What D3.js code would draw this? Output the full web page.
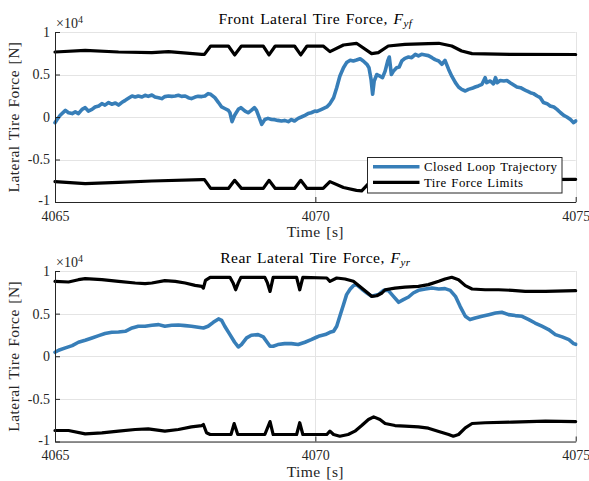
<!DOCTYPE html>
<html>
<head>
<meta charset="utf-8">
<script src="https://cdn.jsdelivr.net/npm/d3@7"></script>
<style>
  html, body { margin: 0; padding: 0; background: #fff; }
  svg { display: block; font-family: "Liberation Serif", "Times New Roman", serif; }
</style>
</head>
<body>
<svg id="chart" width="589" height="481"></svg>
<script>
// ---- Axis ticks -------------------------------------------------------
const timeTicks = [4065, 4070, 4075];
const forceTicks = [-10000, -5000, 0, 5000, 10000];
const forceTickLabels = ["-1", "-0.5", "0", "0.5", "1"];
const seriesNames = ["Closed Loop Trajectory", "Tire Force Limits"];

// ---- Front axle: closed-loop lateral force [N] ------------------------
const frontTrajTime = [4065.00, 4065.04, 4065.10, 4065.20, 4065.26, 4065.33, 4065.39, 4065.45, 4065.52, 4065.58,
  4065.64, 4065.71, 4065.77, 4065.84, 4065.90, 4065.96, 4066.03, 4066.09, 4066.16, 4066.22,
  4066.28, 4066.35, 4066.41, 4066.48, 4066.54, 4066.60, 4066.67, 4066.73, 4066.79, 4066.86,
  4066.92, 4066.99, 4067.05, 4067.11, 4067.18, 4067.24, 4067.31, 4067.37, 4067.43, 4067.50,
  4067.56, 4067.62, 4067.69, 4067.75, 4067.82, 4067.88, 4067.94, 4067.99, 4068.07, 4068.14,
  4068.20, 4068.26, 4068.33, 4068.36, 4068.40, 4068.45, 4068.52, 4068.57, 4068.65, 4068.71,
  4068.77, 4068.83, 4068.87, 4068.91, 4068.97, 4069.03, 4069.09, 4069.16, 4069.22, 4069.28,
  4069.35, 4069.41, 4069.48, 4069.54, 4069.60, 4069.67, 4069.73, 4069.80, 4069.86, 4069.92,
  4069.99, 4070.03, 4070.12, 4070.22, 4070.28, 4070.35, 4070.41, 4070.47, 4070.54, 4070.60,
  4070.67, 4070.73, 4070.79, 4070.86, 4070.92, 4070.99, 4071.03, 4071.07, 4071.10, 4071.13,
  4071.18, 4071.24, 4071.29, 4071.34, 4071.39, 4071.42, 4071.46, 4071.50, 4071.56, 4071.61,
  4071.66, 4071.72, 4071.79, 4071.85, 4071.92, 4071.98, 4072.04, 4072.11, 4072.17, 4072.24,
  4072.30, 4072.37, 4072.43, 4072.49, 4072.56, 4072.62, 4072.69, 4072.75, 4072.81, 4072.88,
  4072.94, 4073.01, 4073.07, 4073.13, 4073.20, 4073.26, 4073.29, 4073.36, 4073.42, 4073.46,
  4073.49, 4073.55, 4073.62, 4073.68, 4073.74, 4073.81, 4073.87, 4073.94, 4074.00, 4074.06,
  4074.13, 4074.19, 4074.26, 4074.32, 4074.38, 4074.45, 4074.51, 4074.58, 4074.64, 4074.71,
  4074.77, 4074.83, 4074.90, 4074.96, 4075.00];
const frontTrajForce = [-670, -300, 200, 780, 500, 400, 600, 400, 900, 1100,
  700, 900, 1180, 1300, 1570, 1400, 1700, 1500, 1650, 1400,
  1700, 1960, 2200, 2470, 2350, 2470, 2350, 2550, 2430, 2590,
  2350, 2270, 2160, 2400, 2470, 2430, 2470, 2550, 2430, 2470,
  2270, 2160, 2350, 2430, 2400, 2470, 2750, 2670, 2270, 1700,
  1180, 1000, 780, 500, -550, 200, 900, 1100, 700, 500,
  780, 1100, 780, 120, -860, -300, -160, -300, -310, -400,
  -470, -400, -550, -300, -470, -160, 0, 200, 400, 500,
  700, 650, 900, 1180, 1570, 2270, 3450, 4800, 5800, 6400,
  6670, 6590, 6700, 6860, 6590, 6200, 5800, 4430, 2670, 4240,
  5000, 4800, 4630, 5400, 6590, 7060, 5000, 5400, 5800, 5880,
  6590, 6900, 7060, 6980, 7370, 7180, 7370, 7290, 7220, 6980,
  6750, 6590, 6200, 6670, 5600, 4800, 4040, 3530, 3250, 3060,
  3250, 3370, 3530, 3650, 3840, 4630, 4040, 4240, 3900, 4630,
  4040, 4300, 4240, 4300, 4040, 3760, 3530, 3450, 3250, 3060,
  2860, 2750, 2470, 2270, 1700, 1570, 1300, 1180, 900, 500,
  200, 0, -300, -670, -470];

// ---- Front axle: tire force limits [N] --------------------------------
const frontUpperTime = [4065.00, 4065.58, 4066.22, 4066.86, 4067.18, 4067.82, 4067.87, 4067.99, 4068.33, 4068.45,
  4068.58, 4069.00, 4069.11, 4069.23, 4069.60, 4069.72, 4069.84, 4070.15, 4070.28, 4070.54,
  4070.79, 4071.08, 4071.21, 4071.40, 4071.72, 4072.17, 4072.37, 4072.62, 4072.81, 4073.01,
  4073.78, 4075.00];
const frontUpperForce = [7650, 7840, 7650, 7570, 7690, 7370, 7370, 8350, 8350, 7300,
  8350, 8350, 7300, 8350, 8350, 7300, 8350, 8350, 7690, 8470,
  8670, 7450, 7570, 8350, 8550, 8630, 8670, 8350, 7760, 7450,
  7370, 7350];
const frontLowerTime = [4065.00, 4065.58, 4066.22, 4066.86, 4067.82, 4067.87, 4067.99, 4068.33, 4068.45, 4068.58,
  4069.00, 4069.11, 4069.23, 4069.60, 4069.72, 4069.84, 4070.15, 4070.28, 4070.54, 4070.79,
  4070.89, 4071.08, 4071.21, 4071.40, 4071.72, 4072.17, 4072.37, 4072.62, 4072.81, 4073.01,
  4073.78, 4075.00];
const frontLowerForce = [-7610, -7840, -7690, -7530, -7370, -7370, -8400, -8400, -7450, -8400,
  -8400, -7450, -8400, -8400, -7450, -8400, -8400, -7600, -8300, -8630,
  -8700, -7450, -7570, -8350, -8550, -8630, -8670, -8350, -7760, -7450,
  -7370, -7330];

// ---- Rear axle: closed-loop lateral force [N] -------------------------
const rearTrajTime = [4065.00, 4065.07, 4065.20, 4065.33, 4065.45, 4065.58, 4065.71, 4065.84, 4065.96, 4066.09,
  4066.22, 4066.35, 4066.48, 4066.60, 4066.73, 4066.86, 4066.99, 4067.11, 4067.24, 4067.37,
  4067.50, 4067.62, 4067.75, 4067.85, 4067.94, 4068.04, 4068.14, 4068.20, 4068.26, 4068.36,
  4068.45, 4068.52, 4068.58, 4068.68, 4068.77, 4068.90, 4069.00, 4069.06, 4069.13, 4069.19,
  4069.28, 4069.41, 4069.54, 4069.67, 4069.80, 4069.92, 4070.02, 4070.06, 4070.19, 4070.28,
  4070.35, 4070.41, 4070.47, 4070.54, 4070.60, 4070.67, 4070.73, 4070.79, 4070.89, 4070.99,
  4071.08, 4071.21, 4071.31, 4071.40, 4071.50, 4071.60, 4071.69, 4071.79, 4071.88, 4071.98,
  4072.11, 4072.24, 4072.37, 4072.49, 4072.59, 4072.69, 4072.78, 4072.88, 4072.97, 4073.07,
  4073.20, 4073.33, 4073.46, 4073.58, 4073.71, 4073.84, 4073.97, 4074.10, 4074.22, 4074.35,
  4074.48, 4074.61, 4074.74, 4074.87, 4074.96, 4075.00];
const rearTrajForce = [470, 700, 980, 1250, 1640, 1880, 2150, 2420, 2660, 2810,
  2850, 2930, 3320, 3520, 3520, 3630, 3710, 3520, 3630, 3670,
  3590, 3520, 3400, 3320, 3520, 3980, 4380, 4200, 3520, 2540,
  1640, 1090, 1370, 2150, 2460, 2540, 2270, 1760, 1170, 1170,
  1370, 1480, 1480, 1370, 1640, 1950, 2230, 2340, 2540, 2810,
  2930, 3520, 4690, 6050, 7230, 7890, 8280, 8400, 7890, 7420,
  7030, 7230, 7730, 7730, 7030, 6330, 6640, 6950, 7420, 7730,
  7890, 8000, 7890, 7930, 7730, 7030, 5860, 4690, 4300, 4490,
  4690, 4880, 5080, 5160, 4880, 4770, 4690, 4300, 3900, 3520,
  3130, 2540, 2270, 1950, 1480, 1400];

// ---- Rear axle: tire force limits [N] ---------------------------------
const rearUpperTime = [4065.00, 4065.26, 4065.45, 4065.58, 4065.90, 4066.22, 4066.54, 4066.73, 4066.86, 4067.11,
  4067.31, 4067.50, 4067.69, 4067.82, 4067.85, 4067.89, 4067.98, 4068.36, 4068.42, 4068.47,
  4068.52, 4068.57, 4069.03, 4069.08, 4069.13, 4069.19, 4069.64, 4069.70, 4069.76, 4070.22,
  4070.28, 4070.41, 4070.57, 4070.73, 4070.89, 4070.99, 4071.08, 4071.18, 4071.28, 4071.34,
  4071.53, 4071.72, 4071.98, 4072.17, 4072.37, 4072.49, 4072.62, 4072.75, 4072.88, 4073.01,
  4073.26, 4073.52, 4073.78, 4074.03, 4074.42, 4075.00];
const rearUpperForce = [8790, 8710, 8980, 9100, 8980, 8790, 8590, 8520, 8590, 8870,
  8790, 8590, 8320, 8200, 8000, 8900, 9260, 9260, 8600, 7800,
  8600, 9260, 9260, 8600, 7600, 9260, 9260, 7800, 9260, 9180,
  8790, 9180, 9060, 8790, 8000, 7500, 7030, 7100, 7420, 7800,
  8000, 8100, 8200, 8400, 8790, 9060, 9260, 8980, 8280, 7890,
  7800, 7800, 7730, 7620, 7620, 7700];
const rearLowerTime = [4065.00, 4065.26, 4065.58, 4065.90, 4066.22, 4066.54, 4066.79, 4067.11, 4067.37, 4067.62,
  4067.82, 4067.85, 4067.91, 4067.98, 4068.38, 4068.44, 4068.51, 4069.03, 4069.13, 4069.19,
  4069.64, 4069.70, 4069.76, 4070.22, 4070.28, 4070.35, 4070.47, 4070.63, 4070.76, 4070.89,
  4071.02, 4071.12, 4071.24, 4071.34, 4071.53, 4071.72, 4071.98, 4072.17, 4072.37, 4072.56,
  4072.65, 4072.75, 4072.88, 4073.01, 4073.26, 4073.78, 4074.42, 4075.00];
const rearLowerForce = [-8710, -8710, -9100, -8980, -8790, -8590, -8520, -8790, -8590, -8280,
  -8130, -8000, -8980, -9180, -9180, -7900, -9180, -9180, -7660, -9180,
  -9180, -7800, -9180, -9180, -8790, -9180, -9380, -9180, -8790, -8130,
  -7420, -7110, -7420, -7890, -8130, -8200, -8280, -8440, -8830, -9180,
  -9380, -9180, -8400, -7890, -7800, -7730, -7620, -7660];

// ---- Layout -------------------------------------------------------------
const axisColor = "#262626";
const gridColor = "#e4e4e4";
const trajColor = "#377eb8";
const limitColor = "#000000";
const tickFont = 14;
const labelFont = 15.6;
const plotLeft = 55, plotRight = 575.7;

const svg = d3.select("#chart");

const panels = [
  {
    top: 32, bottom: 202,
    title: "Front Lateral Tire Force, ", sub: "yf",
    traj: [frontTrajTime, frontTrajForce],
    upper: [frontUpperTime, frontUpperForce],
    lower: [frontLowerTime, frontLowerForce],
    legend: true
  },
  {
    top: 271, bottom: 441.5,
    title: "Rear Lateral Tire Force, ", sub: "yr",
    traj: [rearTrajTime, rearTrajForce],
    upper: [rearUpperTime, rearUpperForce],
    lower: [rearLowerTime, rearLowerForce],
    legend: false
  }
];

const zipSeries = (ts, fs) => ts.map((t, i) => [t, fs[i]]);

panels.forEach((p, idx) => {
  const x = d3.scaleLinear().domain([4065, 4075]).range([plotLeft, plotRight]);
  const y = d3.scaleLinear().domain([-10000, 10000]).range([p.bottom, p.top]);
  const g = svg.append("g");

  // grid
  g.append("g").selectAll("line").data(forceTicks).join("line")
    .attr("x1", plotLeft).attr("x2", plotRight)
    .attr("y1", d => Math.round(y(d)) + 0.5).attr("y2", d => Math.round(y(d)) + 0.5)
    .attr("stroke", gridColor).attr("stroke-width", 1);
  g.append("g").selectAll("line").data(timeTicks).join("line")
    .attr("y1", p.top).attr("y2", p.bottom)
    .attr("x1", d => Math.round(x(d)) + 0.5).attr("x2", d => Math.round(x(d)) + 0.5)
    .attr("stroke", gridColor).attr("stroke-width", 1);

  // data
  const clipId = "clip" + idx;
  svg.append("clipPath").attr("id", clipId).append("rect")
    .attr("x", plotLeft - 2).attr("y", p.top - 2)
    .attr("width", plotRight - plotLeft + 4).attr("height", p.bottom - p.top + 4);
  const line = d3.line().x(d => x(d[0])).y(d => y(d[1]));
  const dg = g.append("g").attr("clip-path", `url(#${clipId})`);
  dg.append("path").datum(zipSeries(p.traj[0], p.traj[1]))
    .attr("d", line).attr("fill", "none").attr("stroke", trajColor)
    .attr("stroke-width", 3.6).attr("stroke-linejoin", "round").attr("stroke-linecap", "round");
  [p.upper, p.lower].forEach(s => {
    dg.append("path").datum(zipSeries(s[0], s[1]))
      .attr("d", line).attr("fill", "none").attr("stroke", limitColor)
      .attr("stroke-width", 3.2).attr("stroke-linejoin", "round").attr("stroke-linecap", "round");
  });

  // axes
  const ax = g.append("g").attr("transform", `translate(0,${p.bottom})`)
    .call(d3.axisBottom(x).tickValues(timeTicks).tickFormat(d3.format("d"))
      .tickSizeInner(-5).tickSizeOuter(0).tickPadding(9));
  const ay = g.append("g").attr("transform", `translate(${plotLeft},0)`)
    .call(d3.axisLeft(y).tickValues(forceTicks).tickFormat((d, i) => forceTickLabels[i])
      .tickSizeInner(-5).tickSizeOuter(0).tickPadding(5));
  [ax, ay].forEach(a => {
    a.attr("font-family", null).attr("font-size", tickFont);
    a.selectAll(".domain, .tick line").attr("stroke", axisColor);
    a.selectAll(".tick text").attr("fill", axisColor);
  });
  // lift the lowest force label clear of the time labels
  ay.selectAll(".tick text").filter(d => d === forceTicks[0]).attr("dy", "0.2em");

  // exponent note
  const ex = g.append("text").attr("x", plotLeft + 1).attr("y", p.top - 3.7)
    .attr("font-size", tickFont).attr("fill", axisColor);
  ex.append("tspan").text("\u00d710");
  ex.append("tspan").attr("font-size", 10).attr("dy", -5).text("4");

  // title
  const tt = g.append("text").attr("x", (plotLeft + plotRight) / 2).attr("y", p.top - 8)
    .attr("text-anchor", "middle").attr("font-size", labelFont).attr("fill", "#000")
    .attr("letter-spacing", 0.45).attr("word-spacing", 1.3);
  tt.append("tspan").text(p.title);
  tt.append("tspan").attr("font-style", "italic").text("F");
  tt.append("tspan").attr("font-style", "italic").attr("font-size", 11).attr("dy", 3).text(p.sub);

  // axis labels
  g.append("text").attr("x", (plotLeft + plotRight) / 2).attr("y", p.bottom + 35)
    .attr("text-anchor", "middle").attr("font-size", labelFont).attr("fill", axisColor)
    .attr("letter-spacing", 0.4).attr("word-spacing", 1.3)
    .text("Time [s]");
  g.append("text")
    .attr("transform", `translate(18.5,${(p.top + p.bottom) / 2}) rotate(-90)`)
    .attr("text-anchor", "middle").attr("font-size", labelFont).attr("fill", axisColor)
    .attr("letter-spacing", 0.4).attr("word-spacing", 1.3)
    .text("Lateral Tire Force [N]");

  // legend
  if (p.legend) {
    const lg = g.append("g");
    lg.append("rect").attr("x", 367.5).attr("y", 157.5).attr("width", 194.5).attr("height", 35.5)
      .attr("fill", "#fff").attr("stroke", axisColor).attr("stroke-width", 1);
    const rows = [{ name: seriesNames[0], color: trajColor, w: 3.6, yy: 166.7 },
                  { name: seriesNames[1], color: limitColor, w: 3.2, yy: 182.3 }];
    rows.forEach(r => {
      lg.append("line").attr("x1", 373).attr("x2", 419.5).attr("y1", r.yy).attr("y2", r.yy)
        .attr("stroke", r.color).attr("stroke-width", r.w);
      lg.append("text").attr("x", 424).attr("y", r.yy).attr("dy", "0.33em")
        .attr("font-size", 12.8).attr("fill", "#000")
        .attr("letter-spacing", 0.45).attr("word-spacing", 1)
        .text(r.name);
    });
  }
});
</script>
</body>
</html>
